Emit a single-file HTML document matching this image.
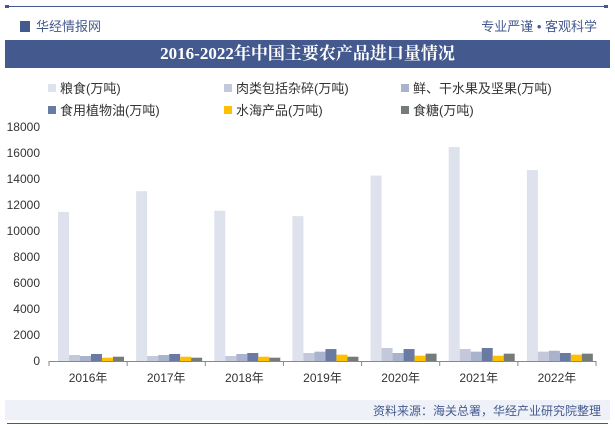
<!DOCTYPE html>
<html><head><meta charset="utf-8"><style>
body{margin:0;width:615px;height:429px;overflow:hidden;background:#fff;font-family:"Liberation Sans","Noto Sans CJK SC",sans-serif;position:relative}
.abs{position:absolute}
</style></head><body>
<div class="abs" style="left:7px;top:6px;width:601px;height:1px;background:#445a8f"></div>
<div class="abs" style="left:5px;top:5px;width:4px;height:3px;background:#445a8f"></div>
<div class="abs" style="left:604px;top:5px;width:4px;height:3px;background:#445a8f"></div>
<div class="abs" style="left:20px;top:16px;font-size:13px;color:#445a8f"><span style="display:inline-block;width:10px;height:11px;background:#445a8f;margin-right:6px;vertical-align:-1px"></span>华经情报网</div>
<div class="abs" style="right:18px;top:16px;font-size:13px;color:#445a8f">专业严谨 • 客观科学</div>
<div class="abs" style="left:5px;top:40px;width:605px;height:28px;background:#445a8f;color:#fff;font:bold 17px 'Liberation Serif','Noto Serif CJK SC',serif;text-align:center;line-height:28px">2016-2022年中国主要农产品进口量情况</div>
<svg class="abs" style="left:0;top:0" width="615" height="429" id="svg"></svg>
<div class="abs" style="left:5px;top:400px;width:605px;height:20px;background:#eef1f7"></div>
<div class="abs" style="right:14px;top:402px;font-size:12px;color:#445a8f">资料来源：海关总署，华经产业研究院整理</div>
<div class="abs" style="left:7px;top:423px;width:601px;height:1px;background:#445a8f"></div>
<script>
const years=["2016年","2017年","2018年","2019年","2020年","2021年","2022年"];
const seriesNames=["粮食(万吨)","肉类包括杂碎(万吨)","鲜、干水果及坚果(万吨)","食用植物油(万吨)","水海产品(万吨)","食糖(万吨)"];
const grain=[11468,13062,11555,11144,14262,16454,14687];
const meat=[460,385,385,615,1000,920,720];
const fruit=[385,460,540,720,615,720,790];
const oil=[540,540,615,920,920,1000,615];
const seafood=[255,330,330,490,410,410,490];
const sugar=[330,255,255,330,565,565,565];
const yTicks=[0,2000,4000,6000,8000,10000,12000,14000,16000,18000];
const colors=["#dde2ec","#c3c9da","#a9b3cb","#6a7ba3","#ffc000","#757b78"];
const data=[grain,meat,fruit,oil,seafood,sugar];
const NS="http://www.w3.org/2000/svg",svg=document.getElementById('svg');
const x0=49,x1=596,y0=361,yTop=127;
const y=v=>y0-(v/18000)*(y0-yTop);
const band=(x1-x0)/years.length,bw=11;
function mk(t,a,txt){const e=document.createElementNS(NS,t);for(const k in a)e.setAttribute(k,a[k]);if(txt!=null)e.textContent=txt;svg.appendChild(e);return e;}
yTicks.forEach(v=>{
const t=mk('text',{x:40,y:y(v)+4,'text-anchor':'end','font-size':12,fill:'#333'},v);


});
data.forEach((s,si)=>s.forEach((v,i)=>{
const r=mk('rect',{x:x0+i*band+9+si*bw,y:y(v),width:bw,height:y0-y(v),fill:colors[si]});


}));
const ax=mk('line',{x1:x0,x2:x1,y1:y0+0.5,y2:y0+0.5,stroke:'#888'});


years.forEach((yr,i)=>{
mk('line',{x1:x0+i*band,x2:x0+i*band,y1:y0,y2:y0+5,stroke:'#888'});
const t=mk('text',{x:x0+(i+0.5)*band,y:382,'text-anchor':'middle','font-size':12,fill:'#333'},yr);


});
mk('line',{x1:x1,x2:x1,y1:y0,y2:y0+5,stroke:'#888'});
const lx=[48,224,401];
seriesNames.forEach((n,i)=>{
const lx0=lx[i%3],ly=i<3?88:110;
const r=mk('rect',{x:lx0,y:ly-4,width:8,height:8,fill:colors[i]});


const t=mk('text',{x:lx0+12,y:ly+5,'font-size':13,fill:'#333'},n);


});
</script>
</body></html>
